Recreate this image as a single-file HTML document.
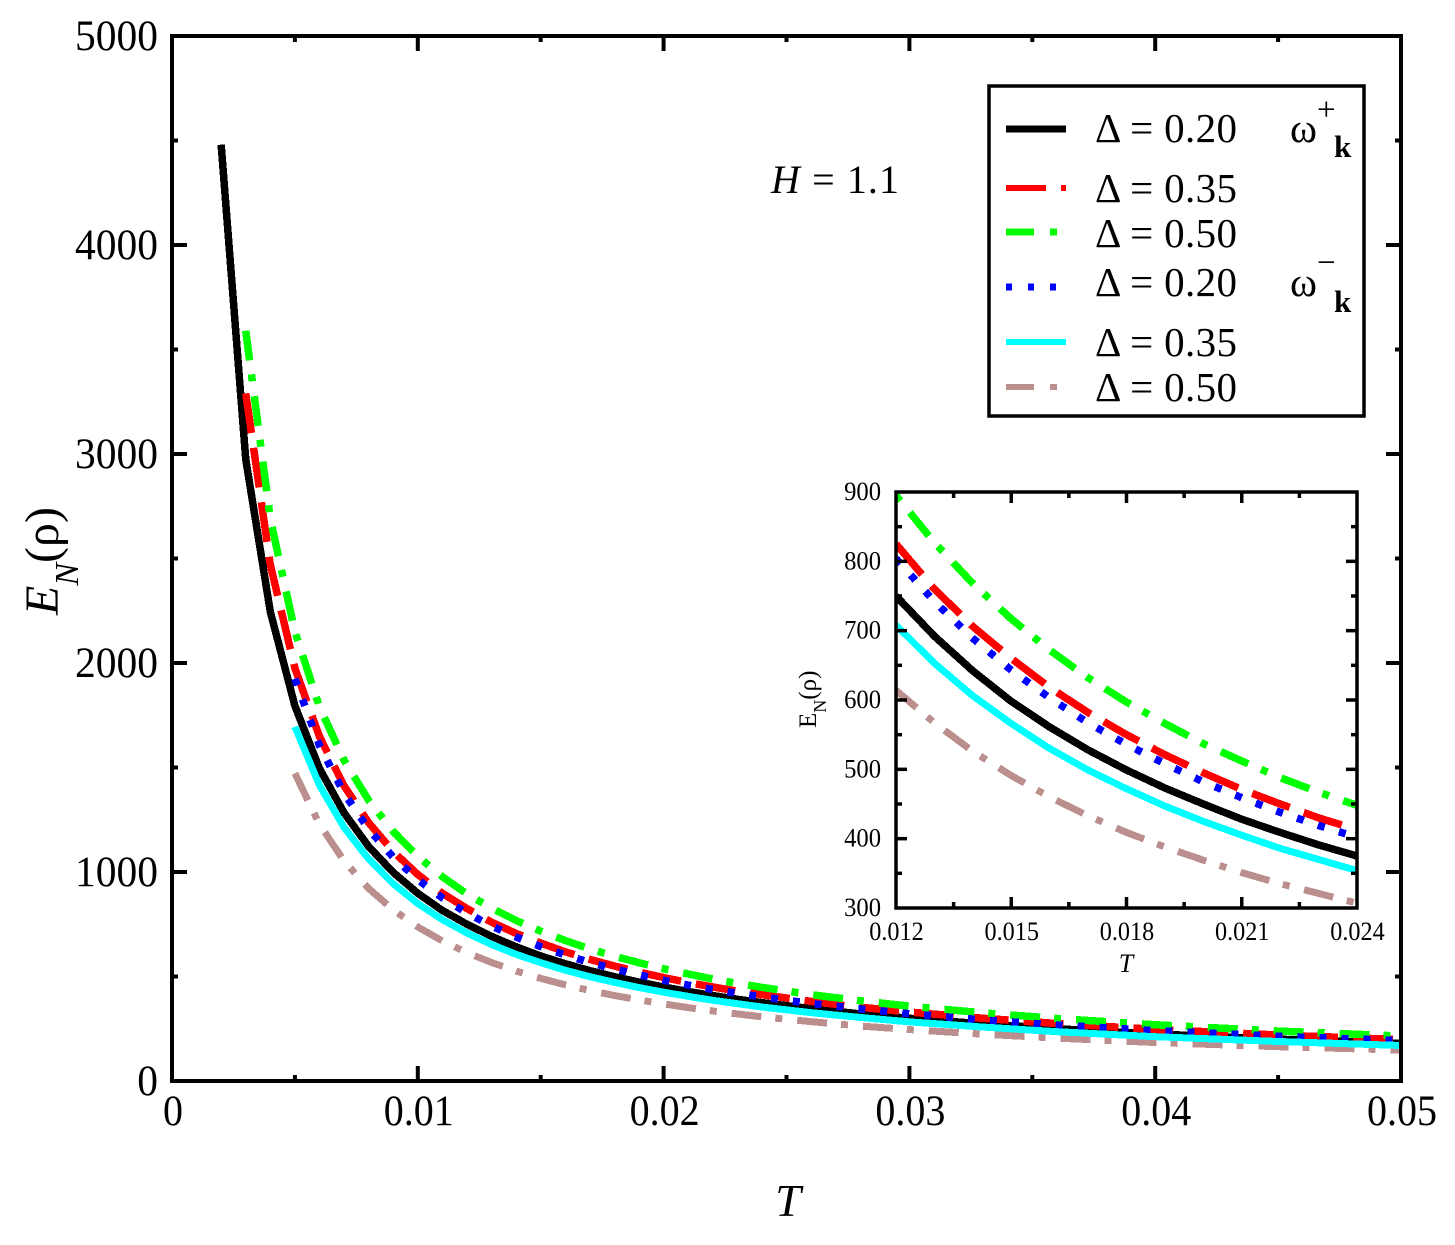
<!DOCTYPE html>
<html lang="en">
<head>
<meta charset="utf-8">
<title>E_N(rho) versus T</title>
<style>
  html, body { margin: 0; padding: 0; background: #fff; }
  svg { display: block; }
  text { font-family: "Liberation Serif", "DejaVu Serif", serif; fill: #000; }
</style>
</head>
<body>
<svg id="chart" xmlns="http://www.w3.org/2000/svg" width="1455" height="1245" viewBox="0 0 1455 1245">
  <defs>
    <clipPath id="main-clip"><rect x="172" y="36" width="1229" height="1045"/></clipPath>
    <clipPath id="inset-clip"><rect x="896" y="492" width="461" height="416"/></clipPath>
  </defs>
  <rect x="0" y="0" width="1455" height="1245" fill="#fff"/>

  <g id="main-curves" clip-path="url(#main-clip)" fill="none"></g>
  <g id="main-ticks"></g>
  <rect x="172" y="36" width="1229" height="1045" fill="none" stroke="#000" stroke-width="4"/>
  <g id="main-labels"></g>

  <text x="788" y="1216" font-size="46" font-style="italic" text-anchor="middle">T</text>
  <text transform="translate(58 615) rotate(-90)" font-size="48"><tspan font-style="italic">E</tspan><tspan font-style="italic" font-size="34" dy="20">N</tspan><tspan dy="-20">(ρ)</tspan></text>
  <text x="771" y="193" font-size="40" textLength="128" lengthAdjust="spacing"><tspan font-style="italic">H</tspan> = 1.1</text>

  <g>
    <rect x="989" y="86" width="375" height="330" fill="#fff" stroke="#000" stroke-width="3.5"/>
    <line x1="1006" x2="1066" y1="129" y2="129" stroke="#000" stroke-width="7"/>
    <line x1="1006" x2="1066" y1="188" y2="188" stroke="#f00" stroke-width="6" stroke-dasharray="40 15"/>
    <line x1="1006" x2="1066" y1="232" y2="232" stroke="#0f0" stroke-width="7" stroke-dasharray="28 16 7 16"/>
    <line x1="1006" x2="1066" y1="287" y2="287" stroke="#00f" stroke-width="7" stroke-dasharray="6 16"/>
    <line x1="1006" x2="1066" y1="342" y2="342" stroke="#0ff" stroke-width="6"/>
    <line x1="1006" x2="1066" y1="387" y2="387" stroke="#bc8f8f" stroke-width="6" stroke-dasharray="28 16 7 16"/>
    <text x="1095" y="142" font-size="41" textLength="142" lengthAdjust="spacing">Δ = 0.20</text>
    <text x="1095" y="202" font-size="41" textLength="142" lengthAdjust="spacing">Δ = 0.35</text>
    <text x="1095" y="247" font-size="41" textLength="142" lengthAdjust="spacing">Δ = 0.50</text>
    <text x="1095" y="296" font-size="41" textLength="142" lengthAdjust="spacing">Δ = 0.20</text>
    <text x="1095" y="356" font-size="41" textLength="142" lengthAdjust="spacing">Δ = 0.35</text>
    <text x="1095" y="401" font-size="41" textLength="142" lengthAdjust="spacing">Δ = 0.50</text>
    <text x="1290" y="142" font-size="41">ω</text>
    <text x="1317" y="120" font-size="33">+</text>
    <text x="1334" y="157" font-size="31" font-weight="bold">k</text>
    <text x="1290" y="296" font-size="41">ω</text>
    <text x="1317" y="273" font-size="33">−</text>
    <text x="1334" y="312" font-size="31" font-weight="bold">k</text>
  </g>

  <g id="inset-curves" clip-path="url(#inset-clip)" fill="none"></g>
  <g id="inset-ticks"></g>
  <rect x="896" y="492" width="461" height="416" fill="none" stroke="#000" stroke-width="3.5"/>
  <g id="inset-labels"></g>
  <text x="1126" y="972" font-size="26" font-style="italic" text-anchor="middle">T</text>
  <text transform="translate(816 728) rotate(-90)" font-size="25">E<tspan font-size="18" dy="10">N</tspan><tspan dy="-10">(ρ)</tspan></text>
</svg>

<script>
const temperatures = [0.002,0.003,0.004,0.005,0.006,0.007,0.008,0.009,0.010,0.011,0.012,0.013,0.014,0.015,0.016,0.017,0.018,0.019,0.020,0.021,0.022,0.023,0.024,0.026,0.028,0.030,0.033,0.036,0.040,0.045,0.050];
const plus020 = [4480,2975,2245,1795,1495,1283,1122,998,898,816,750,692,642,598,561,528,499,473,450,428,409,391,375,346,321,300,273,250,225,200,180];
const plus035 = [3290,2470,1975,1648,1412,1236,1098,988,898,825,760,706,660,618,582,550,521,495,471,450,430,413,381,353,330,300,275,247,220,198];
const plus050 = [3590,2690,2150,1790,1535,1343,1194,1075,977,895,827,768,717,672,632,597,566,537,512,488,467,448,413,384,358,326,299,269,239,215];
const minus020 = [1925,1605,1377,1205,1071,964,876,804,742,689,643,603,567,536,508,482,459,438,419,402,371,345,322,292,268,241,214,193];
const minus035 = [1695,1415,1213,1062,944,849,772,708,653,606,566,530,499,472,447,425,405,386,370,354,327,304,283,258,236,212,189,170];
const minus050 = [1472,1228,1053,921,819,737,670,614,567,526,491,460,433,409,388,369,351,335,321,307,284,263,246,224,205,184,164,148];

const mainXTicks = [0,0.01,0.02,0.03,0.04,0.05];
const mainXTickLabels = ['0','0.01','0.02','0.03','0.04','0.05'];
const mainYTicks = [0,1000,2000,3000,4000,5000];
const mainYTickLabels = ['0','1000','2000','3000','4000','5000'];
const insetXTicks = [0.012,0.015,0.018,0.021,0.024];
const insetXTickLabels = ['0.012','0.015','0.018','0.021','0.024'];
const insetYTicks = [300,400,500,600,700,800,900];
const insetYTickLabels = ['300','400','500','600','700','800','900'];

const seriesList = [
  { name: 'plus-020', values: plus020, color: '#000', width: 7.5, dash: '', insetOffset: 0 },
  { name: 'plus-035', values: plus035, color: '#f00', width: 7.5, dash: '40 15', insetOffset: 0 },
  { name: 'plus-050', values: plus050, color: '#0f0', width: 7.5, dash: '30 14 7 15', insetOffset: 44 },
  { name: 'minus-020', values: minus020, color: '#00f', width: 7.5, dash: '7 15', insetOffset: 0 },
  { name: 'minus-050', values: minus050, color: '#bc8f8f', width: 7, dash: '30 14 7 15', insetOffset: 3 },
  { name: 'minus-035', values: minus035, color: '#0ff', width: 7, dash: '', insetOffset: 0 }
];

const NS = 'http://www.w3.org/2000/svg';
const xMain = t => 172 + (t - 0) / (0.05 - 0) * 1229;
const yMain = v => 1081 - (v - 0) / (5000 - 0) * 1045;
const xInset = t => 896 + (t - 0.012) / (0.024 - 0.012) * 461;
const yInset = v => 908 - (v - 300) / (900 - 300) * 416;

function pathFrom(points, xf, yf) {
  return points.map((p, i) => (i ? 'L' : 'M') + xf(p[0]).toFixed(2) + ' ' + yf(p[1]).toFixed(2)).join(' ');
}

function pointsOf(series) {
  const offset = temperatures.length - series.values.length;
  return series.values.map((v, i) => [temperatures[i + offset], v]);
}

function drawCurve(group, prefix, series, points, xf, yf, dashOffset) {
  const el = document.createElementNS(NS, 'path');
  
  
  el.setAttribute('d', pathFrom(points, xf, yf));
  el.setAttribute('stroke', series.color);
  el.setAttribute('stroke-width', series.width);
  el.setAttribute('stroke-linejoin', 'round');
  el.setAttribute('shape-rendering', 'crispEdges');
  if (series.dash) {
    el.setAttribute('stroke-dasharray', series.dash);
    el.setAttribute('stroke-dashoffset', dashOffset);
  }
  group.appendChild(el);
}

const mainCurves = document.getElementById('main-curves');
const insetCurves = document.getElementById('inset-curves');
seriesList.forEach(series => {
  const pts = pointsOf(series);
  drawCurve(mainCurves, 'main', series, pts, xMain, yMain, 0);
  const insetPts = pts.filter(p => p[0] >= 0.012 && p[0] <= 0.024);
  drawCurve(insetCurves, 'inset', series, insetPts, xInset, yInset, series.insetOffset);
});

function drawTick(group, name, x1, y1, x2, y2, w) {
  const el = document.createElementNS(NS, 'line');
  
  
  el.setAttribute('x1', x1);
  el.setAttribute('y1', y1);
  el.setAttribute('x2', x2);
  el.setAttribute('y2', y2);
  el.setAttribute('stroke', '#000');
  el.setAttribute('stroke-width', w);
  group.appendChild(el);
}

function drawLabel(group, name, text, x, y, size, anchor, emWidth) {
  const el = document.createElementNS(NS, 'text');
  
  
  el.setAttribute('x', x);
  el.setAttribute('y', y);
  el.setAttribute('font-size', size);
  el.setAttribute('text-anchor', anchor);
  const w = (text.replace('.', '').length * 0.5 + (text.includes('.') ? 0.25 : 0)) * emWidth;
  el.setAttribute('textLength', w);
  el.setAttribute('lengthAdjust', 'spacingAndGlyphs');
  el.textContent = text;
  group.appendChild(el);
}

function drawAxisSet(tickGroup, labelGroup, prefix, cfg) {
  cfg.xTicks.forEach((t, i) => {
    const x = cfg.xf(t);
    if (i > 0 && i < cfg.xTicks.length - 1) {
      drawTick(tickGroup, prefix + '-x-major-tick-bottom', x, cfg.bottom, x, cfg.bottom - cfg.major, cfg.tw);
      drawTick(tickGroup, prefix + '-x-major-tick-top', x, cfg.top, x, cfg.top + cfg.major, cfg.tw);
    }
    if (i < cfg.xTicks.length - 1) {
      const m = cfg.xf((t + cfg.xTicks[i + 1]) / 2);
      drawTick(tickGroup, prefix + '-x-minor-tick-bottom', m, cfg.bottom, m, cfg.bottom - cfg.minor, cfg.tw);
      drawTick(tickGroup, prefix + '-x-minor-tick-top', m, cfg.top, m, cfg.top + cfg.minor, cfg.tw);
    }
    drawLabel(labelGroup, prefix + '-x-tick-label', cfg.xLabels[i], x + cfg.xLabelShift, cfg.xLabelY, cfg.fs, 'middle', cfg.emX);
  });
  cfg.yTicks.forEach((v, i) => {
    const y = cfg.yf(v);
    if (i > 0 && i < cfg.yTicks.length - 1) {
      drawTick(tickGroup, prefix + '-y-major-tick-left', cfg.left, y, cfg.left + cfg.major, y, cfg.tw);
      drawTick(tickGroup, prefix + '-y-major-tick-right', cfg.right, y, cfg.right - cfg.major, y, cfg.tw);
    }
    if (i < cfg.yTicks.length - 1) {
      const m = cfg.yf((v + cfg.yTicks[i + 1]) / 2);
      drawTick(tickGroup, prefix + '-y-minor-tick-left', cfg.left, m, cfg.left + cfg.minor, m, cfg.tw);
      drawTick(tickGroup, prefix + '-y-minor-tick-right', cfg.right, m, cfg.right - cfg.minor, m, cfg.tw);
    }
    drawLabel(labelGroup, prefix + '-y-tick-label', cfg.yLabels[i], cfg.yLabelX, y + cfg.yLabelDy, cfg.fs, 'end', cfg.emY);
  });
}

drawAxisSet(document.getElementById('main-ticks'), document.getElementById('main-labels'), 'main', {
  xTicks: mainXTicks, xLabels: mainXTickLabels, yTicks: mainYTicks, yLabels: mainYTickLabels,
  xf: xMain, yf: yMain, left: 172, right: 1401, top: 36, bottom: 1081,
  major: 15, minor: 6, tw: 4, fs: 43, emX: 40, emY: 41.5, xLabelY: 1125, xLabelShift: 1, yLabelX: 158, yLabelDy: 14
});
drawAxisSet(document.getElementById('inset-ticks'), document.getElementById('inset-labels'), 'inset', {
  xTicks: insetXTicks, xLabels: insetXTickLabels, yTicks: insetYTicks, yLabels: insetYTickLabels,
  xf: xInset, yf: yInset, left: 896, right: 1357, top: 492, bottom: 908,
  major: 11, minor: 6, tw: 3.5, fs: 26, emX: 24.2, emY: 24.6, xLabelY: 940, xLabelShift: 0.5, yLabelX: 881, yLabelDy: 8
});
</script>
</body>
</html>
